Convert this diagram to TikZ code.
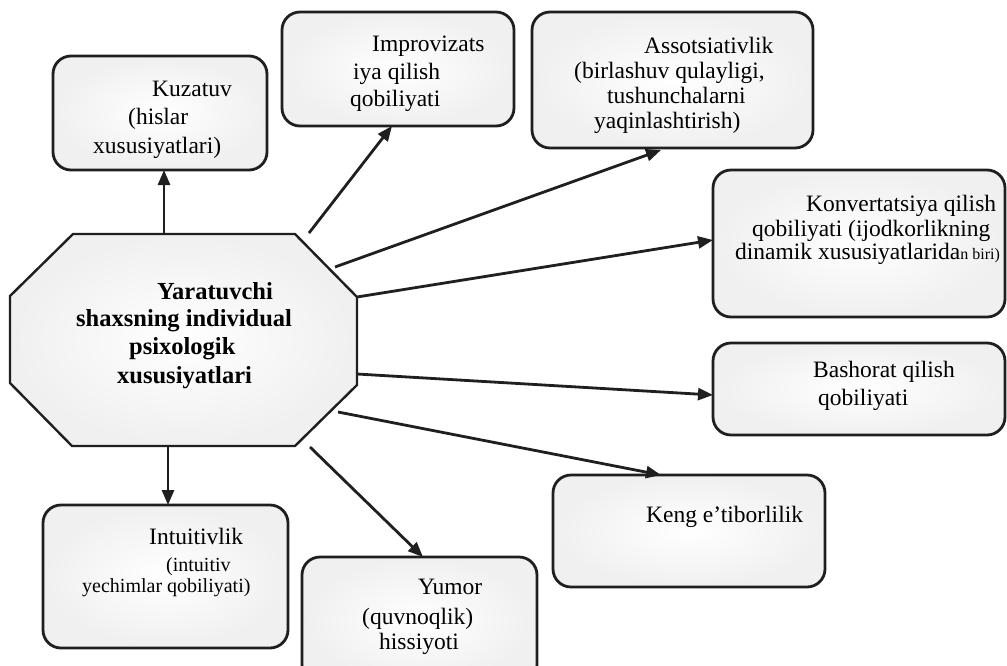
\documentclass[tikz,border=0pt]{standalone}
\usepackage{fontspec}
\setmainfont{Liberation Serif}
\usetikzlibrary{arrows.meta}
\begin{document}
\begin{tikzpicture}[x=1pt,y=-1pt,
  box/.style={draw=black!88, line width=2.8pt, rounded corners=18pt, inner color=white, outer color=black!6, minimum width=#1},
  txt/.style={inner sep=0pt, anchor=base west, text=black, font=\fontsize{23.5}{28}\selectfont},
  small/.style={txt, font=\fontsize{20}{24}\selectfont},
  ctr/.style={inner sep=0pt, anchor=base west, text=black, font=\fontsize{24.5}{28}\selectfont\bfseries},
  arr/.style={draw=black!88, line width=2.8pt, -{Triangle[length=15pt,width=12pt]}}
]
\useasboundingbox (0,0) rectangle (1007,665);

% boxes
\node[box=214, minimum height=114] (kuz) at (160,113) {};
\node[box=232, minimum height=114] (imp) at (398,69) {};
\node[box=281, minimum height=136] (ass) at (672.5,80) {};
\node[box=292, minimum height=147] (kon) at (859,243.5) {};
\node[box=292, minimum height=92] (bas) at (859,389) {};
\node[box=272, minimum height=112] (ken) at (689,531) {};
\node[box=245, minimum height=143] (int) at (165.5,576.5) {};
\node[box=235, minimum height=126] (yum) at (419.5,620) {};

% octagon
\draw[line width=2.4pt, draw=black!88, inner color=white, outer color=black!6]
  (73,234) -- (295,234) -- (357,297) -- (357,385) -- (295,446) -- (72,446) -- (10,383) -- (10,296) -- cycle;

% connector ends
\coordinate (s1) at (164,234); \coordinate (t1) at (164,170);
\coordinate (s2) at (309,233); \coordinate (t2) at (392,126);
\coordinate (s3) at (335,267); \coordinate (t3) at (661,150);
\coordinate (s4) at (357,297); \coordinate (t4) at (713,240);
\coordinate (s5) at (357,374); \coordinate (t5) at (713,395);
\coordinate (s6) at (338,412); \coordinate (t6) at (661,475);
\coordinate (s7) at (310,447); \coordinate (t7) at (423,557);
\coordinate (s8) at (168,446); \coordinate (t8) at (168,505);

\draw[arr] (s1) -- (t1);
\draw[arr] (s2) -- (t2);
\draw[arr] (s3) -- (t3);
\draw[arr] (s4) -- (t4);
\draw[arr] (s5) -- (t5);
\draw[arr] (s6) -- (t6);
\draw[arr] (s7) -- (t7);
\draw[arr] (s8) -- (t8);

% centre text
\node[ctr] (c1) at (157,299) {Yaratuvchi};
\node[ctr] (c2) at (76,326) {shaxsning individual};
\node[ctr] (c3) at (129,354) {psixologik};
\node[ctr] (c4) at (117,383) {xususiyatlari};

% Kuzatuv
\node[txt] (k1) at (152,96) {Kuzatuv};
\node[txt] (k2) at (128,124) {(hislar};
\node[txt] (k3) at (93,153) {xususiyatlari)};

% Improvizatsiya
\node[txt] (i1) at (372,51) {Improvizats};
\node[txt] (i2) at (353,79) {iya qilish};
\node[txt] (i3) at (350,106) {qobiliyati};

% Assotsiativlik
\node[txt] (a1) at (644,53) {Assotsiativlik};
\node[txt] (a2) at (574,78) {(birlashuv qulayligi,};
\node[txt] (a3) at (607,103) {tushunchalarni};
\node[txt] (a4) at (594,128) {yaqinlashtirish)};

% Konvertatsiya
\node[txt] (v1) at (806,211) {Konvertatsiya qilish};
\node[txt] (v2) at (752,236) {qobiliyati (ijodkorlikning};
\node[txt] (v3) at (735,259) {dinamik xususiyatlarida{\fontsize{16}{18}\selectfont n biri)}};

% Bashorat
\node[txt] (b1) at (813,377) {Bashorat qilish};
\node[txt] (b2) at (818,405) {qobiliyati};

% Keng
\node[txt] (e1) at (646,522) {Keng e’tiborlilik};

% Intuitivlik
\node[txt] (n1) at (149,544) {Intuitivlik};
\node[small] (n2) at (166,571) {(intuitiv};
\node[small] (n3) at (82,592) {yechimlar qobiliyati)};

% Yumor
\node[txt] (y1) at (418,594) {Yumor};
\node[txt] (y2) at (362,624) {(quvnoqlik)};
\node[txt] (y3) at (379,649) {hissiyoti};
\end{tikzpicture}
\end{document}
